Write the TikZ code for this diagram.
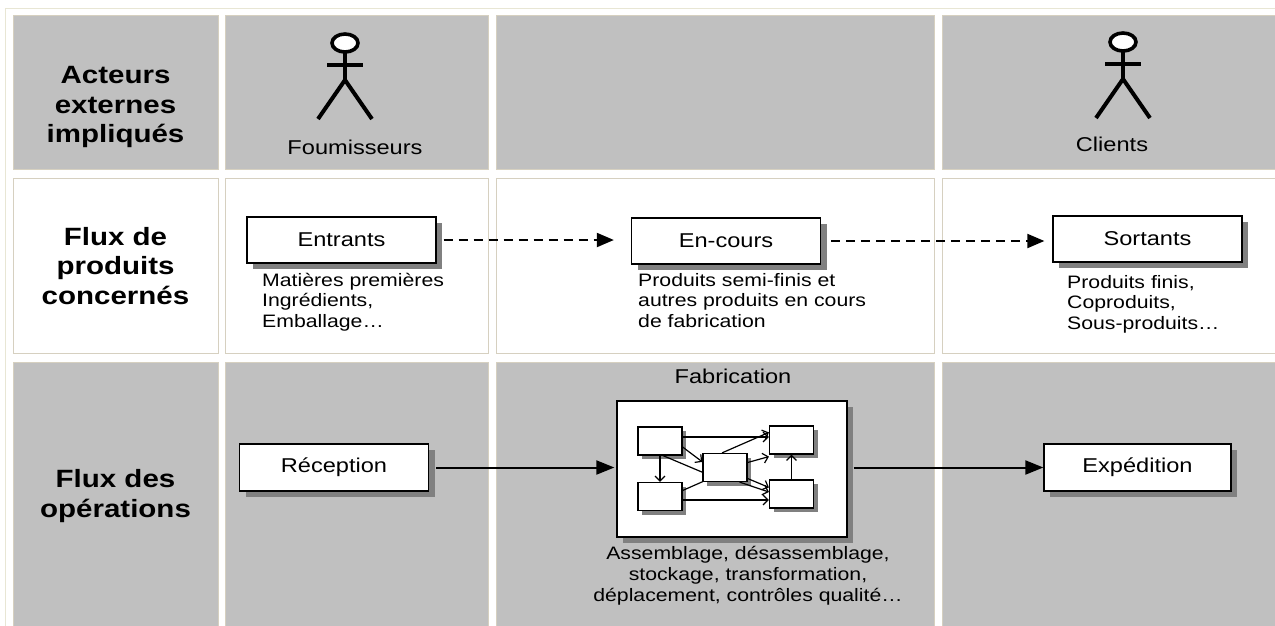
\documentclass[tikz,border=0pt]{standalone}
\usepackage{fontspec}
\setmainfont{Liberation Sans}[FakeStretch=1.18]
\usetikzlibrary{arrows.meta,shadows,calc}
\definecolor{cellgray}{RGB}{192,192,192}
\definecolor{cellline}{RGB}{214,208,192}
\definecolor{frameline}{RGB}{232,230,212}
\definecolor{shadowgray}{RGB}{128,128,128}
\begin{document}
\begin{tikzpicture}[x=1pt,y=-1pt,
  graycell/.style={fill=cellgray,draw=cellline,line width=1pt},
  whitecell/.style={fill=white,draw=cellline,line width=1pt},
  titletext/.style={font=\fontsize{25}{29.5}\selectfont\bfseries,align=center,inner sep=0pt},
  lbl/.style={font=\fontsize{20}{24}\selectfont,inner sep=0pt},
  desc/.style={font=\fontsize{18}{20.5}\selectfont,align=left,inner sep=0pt,anchor=north west},
  flowbox/.style={draw,fill=white,line width=1.3pt,minimum width=189pt,minimum height=46pt,inner sep=0pt,
    font=\fontsize{20}{24}\selectfont,
    drop shadow={shadow xshift=6pt,shadow yshift=-6pt,fill=shadowgray,opacity=1}},
  minibox/.style={draw,fill=white,line width=1.2pt,minimum width=44pt,minimum height=28pt,inner sep=0pt,
    drop shadow={shadow xshift=4pt,shadow yshift=-4pt,fill=shadowgray,opacity=1}},
  dasharrow/.style={line width=2pt,dash pattern=on 9pt off 6pt,-{Triangle[length=17pt,width=14pt]}},
  solidarrow/.style={line width=2pt,-{Triangle[length=18pt,width=14pt]}},
  innerarrow/.style={line width=1.2pt,-{Straight Barb[length=5pt,width=10pt]}},
  innerline/.style={line width=1.2pt},
  limb/.style={line width=4pt},
  pics/actor/.style={code={
    \draw[limb] (-18,22) -- (18,22);
    \draw[limb] (0,9) -- (0,37);
    \draw[limb] (-27,76) -- (0,37) -- (27,76);
    \draw[line width=3.6pt,fill=white] (0,0) ellipse [x radius=13, y radius=9];
  }}
]
\useasboundingbox (0,0) rectangle (1275,625);
\clip (0,0) rectangle (1275,625);
\fill[white] (0,0) rectangle (1275,625);
\draw[frameline,line width=1.2pt] (5.5,8.5) rectangle (1290,640);

% row 1
\draw[graycell] (13,15) rectangle (218,169);
\draw[graycell] (225,15) rectangle (488,169);
\draw[graycell] (496,15) rectangle (934,169);
\draw[graycell] (942,15) rectangle (1290,169);
% row 2
\draw[whitecell] (13,178) rectangle (218,353);
\draw[whitecell] (225,178) rectangle (488,353);
\draw[whitecell] (496,178) rectangle (934,353);
\draw[whitecell] (942,178) rectangle (1290,353);
% row 3
\draw[graycell] (13,362) rectangle (218,640);
\draw[graycell] (225,362) rectangle (488,640);
\draw[graycell] (496,362) rectangle (934,640);
\draw[graycell] (942,362) rectangle (1290,640);

% row titles
\node[titletext] (t1) at (115.5,107) {Acteurs\\externes\\impliqués};
\node[titletext] (t2) at (115.5,266) {Flux de\\produits\\concernés};
\node[titletext] (t3) at (115.5,496) {Flux des\\opérations};

% actors
\pic (fou) at (345,43) {actor};
\pic (cli) at (1123,42) {actor};
\node[lbl] (fol) at (355,147) {Foumisseurs};
\node[lbl] (cll) at (1112,144) {Clients};

% product flows
\node[flowbox] (ent) at (341.5,240) {Entrants};
\node[flowbox] (enc) at (726,241) {En-cours};
\node[flowbox] (sor) at (1147.5,239) {Sortants};
\draw[dasharrow] ([xshift=7pt]ent.east) -- ([xshift=-17pt]ent.east -| enc.west);
\draw[dasharrow] ([xshift=10pt]enc.east) -- ([xshift=-8pt]enc.east -| sor.west);
\node[desc] (entd) at (262,273) {Matières premières\\Ingrédients,\\Emballage…};
\node[desc] (encd) at (638,273) {Produits semi-finis et\\autres produits en cours\\de fabrication};
\node[desc] (sord) at (1067,275) {Produits finis,\\Coproduits,\\Sous-produits…};

% operations
\node[flowbox,minimum height=47pt] (rec) at (334,467.5) {Réception};
\node[flowbox,minimum height=47pt,minimum width=187pt] (exp) at (1137.5,467.5) {Expédition};
\node[lbl] (fabl) at (733,376) {Fabrication};
\node[draw,fill=white,line width=1.3pt,minimum width=230pt,minimum height=136pt,inner sep=0pt,
  drop shadow={shadow xshift=6pt,shadow yshift=-6pt,fill=shadowgray,opacity=1}] (fab) at (732,469) {};
\draw[solidarrow] ([xshift=7pt]rec.east) -- ([xshift=-2pt]rec.east -| fab.west);
\draw[solidarrow] ([xshift=6pt]fab.east |- exp.west) -- (exp.west);
\node[font=\fontsize{18}{21}\selectfont,align=center,inner sep=0pt,anchor=north] (fabd) at (748,546)
  {Assemblage, désassemblage,\\stockage, transformation,\\déplacement, contrôles qualité…};

% inner network
\node[minibox] (ia) at (660,441) {};
\node[minibox] (ib) at (660,496.5) {};
\node[minibox] (id) at (791.5,440) {};
\node[minibox] (ie) at (791.5,494) {};
\coordinate (cL) at (703,467.5);
\draw[innerline] ([xshift=3pt]ia.south) -- ($(cL)+(0,5)$);
\draw[innerline] ([yshift=6pt]ib.east) -- ($(cL)+(0,14)$);
\node[minibox] (ic) at (725,467.5) {};
\draw[innerarrow] ([yshift=4pt]ia.east) -- ([yshift=4pt]ia.east -| id.west);
\draw[innerarrow] ([yshift=-6pt]ia.east) -- ([yshift=-9pt]ic.north west);
\draw[innerarrow] (ia.south) -- (ia.south |- ib.north);
\draw[innerarrow] ([xshift=-3pt]ic.north) -- ([yshift=-7pt]id.north west);
\draw[innerarrow] ([yshift=5pt]ic.east) -- ([yshift=-2pt]id.south west);
\draw[innerarrow] ([yshift=-11pt]ic.east) -- ([yshift=-8pt]ie.north west);
\draw[innerarrow] ([xshift=-8pt]ic.south east) -- ([yshift=2pt]ie.west);
\draw[innerarrow] ([yshift=-3.5pt]ib.east) -- ([yshift=-3.5pt]ib.east -| ie.west);
\draw[innerarrow] (ie.north) -- (ie.north |- id.south);
\end{tikzpicture}
\end{document}
